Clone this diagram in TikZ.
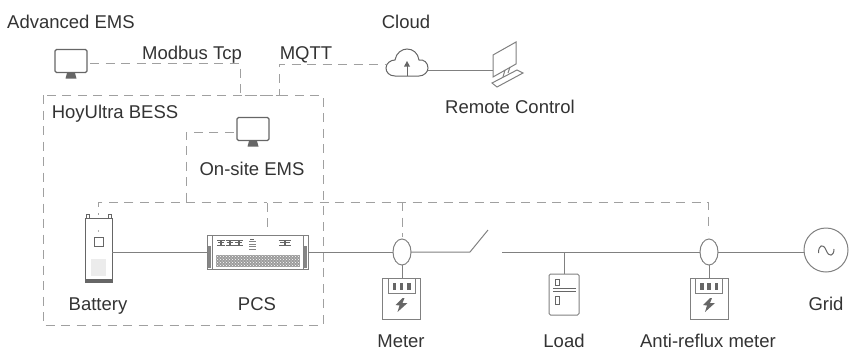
\documentclass[tikz,border=0pt]{standalone}
\usepackage{fontspec}
\setmainfont{Liberation Sans}
\usetikzlibrary{shapes.geometric,patterns}
\definecolor{wirecol}{HTML}{808080}
\definecolor{dashcol}{HTML}{A0A0A0}
\definecolor{iconcol}{HTML}{666666}
\definecolor{textcol}{HTML}{333333}
\tikzset{
  wire/.style={draw=wirecol,line width=1pt},
  bus/.style={draw=dashcol,line width=1pt,dash pattern=on 9pt off 6.5pt},
  iconbox/.style={draw=iconcol,line width=1pt,inner sep=0pt,outer sep=0pt},
  label/.style={text=textcol,font=\fontsize{18.5}{22}\selectfont,inner sep=0pt,anchor=base},
  monitor/.pic={
    \draw[iconcol,line width=1.2pt,rounded corners=1.5pt] (-16,-12) rectangle (16,11);
    \fill[iconcol] (-4,11.5) -- (4,11.5) -- (5.5,17) -- (-5.5,17) -- cycle;
  },
  meter/.pic={
    \draw[wirecol,line width=1pt] (-13.5,0) rectangle (13.5,15);
    \foreach \i in {-7,0,7.5} \fill[iconcol] (\i-1.7,5) rectangle (\i+1.7,12);
    \fill[iconcol] (1,20) -- (-6,27) -- (-2,27.5) -- (-4,34) -- (6,25) -- (1,25) -- (3,20) -- cycle;
  },
}
\begin{document}
\begin{tikzpicture}[x=1pt,y=-1pt]
  \useasboundingbox (0,0) rectangle (849,357);

  % labels
  \begin{scope}[every node/.style={label}]
    \node (advlabel)   at (71,28)   {Advanced EMS};
    \node (modbus)     at (192,59)  {Modbus Tcp};
    \node (mqtt)       at (306,59)  {MQTT};
    \node (cloudlabel) at (406,28)  {Cloud};
    \node (remote)     at (510,113) {Remote Control};
    \node (hoyultra)   at (115,118) {HoyUltra BESS};
    \node (onsite)     at (252,175) {On-site EMS};
    \node (batlabel)   at (98,310)  {Battery};
    \node (pcslabel)   at (257,310) {PCS};
    \node (mtrlabel)   at (401,347) {Meter};
    \node (loadlabel)  at (564,347) {Load};
    \node (antilabel)  at (708,347) {Anti-reflux meter};
    \node (gridlabel)  at (826,310) {Grid};
  \end{scope}

  % equipment
  \node[iconbox,minimum width=27pt,minimum height=64pt] (battery) at (98.5,250) {};
  \node[iconbox,draw=wirecol,minimum width=101pt,minimum height=34pt] (pcs) at (257.5,252) {};
  \node[iconbox,draw=wirecol,minimum width=38pt,minimum height=41pt] (meterbox) at (401.5,298.5) {};
  \node[iconbox,draw=wirecol,minimum width=38pt,minimum height=41pt] (antibox) at (709,298.5) {};
  \node[iconbox,draw=wirecol,rounded corners=1.5pt,minimum width=30pt,minimum height=41pt] (load) at (564,294.5) {};
  \node[ellipse,iconbox,draw=wirecol,minimum width=18pt,minimum height=26pt] (ct1) at (402,252) {};
  \node[ellipse,iconbox,draw=wirecol,minimum width=18pt,minimum height=26pt] (ct2) at (709,252) {};
  \node[circle,iconbox,draw=wirecol,minimum size=44pt] (grid) at (826,250) {};
  \node[inner sep=0pt,minimum width=32pt,minimum height=23pt] (advems) at (71,61.5) {};
  \node[inner sep=0pt,minimum width=32pt,minimum height=23pt] (siteems) at (253,129.5) {};
  \node[inner sep=0pt,minimum width=42pt,minimum height=27pt] (cloud) at (407,63) {};
  \node[inner sep=0pt,minimum width=30pt,minimum height=50pt] (pc) at (508,65) {};

  \pic at (71,61.5) {monitor};
  \pic at (253,129.5) {monitor};
  \pic at (401.5,278) {meter};
  \pic at (709,278) {meter};

  % battery details
  \fill[iconcol] (85,278.5) rectangle (112,282);
  \fill[gray!15] (90.5,259) rectangle (106,275.5);
  \draw[iconcol] (94,237) rectangle (103,246);
  \fill[iconcol] (98.5,231) circle (0.7);
  \draw[iconcol] (86,218) -- (86,214.5) -- (89,214.5) -- (89,218);
  \draw[iconcol] (108,218) -- (108,214.5) -- (111,214.5) -- (111,218);

  % pcs details
  \fill[iconcol!80] (208,246) rectangle (211,268);
  \fill[iconcol!80] (304,246) rectangle (307,268);
  \draw[wirecol] (212,235) -- (212,269) (303.5,235) -- (303.5,269);
  \fill[iconcol!65] (216,255) rectangle (300,267);
  \fill[pattern=crosshatch dots,pattern color=white] (216,255) rectangle (300,267);
  \foreach \x/\w in {217/3.6,225.7/3.6,234.4/3.6,278.5/5.5}
    \draw[iconcol,line width=1pt] (\x,240) -- (\x+\w,240) -- (\x+\w,245.5) -- (\x,245.5) (\x+1,242.7) -- (\x+\w,242.7)
      (\x+2*\w+1,240) -- (\x+\w+1,240) -- (\x+\w+1,245.5) -- (\x+2*\w+1,245.5) (\x+2*\w,242.7) -- (\x+\w+1,242.7);
  \foreach \y in {241.5,244,246.5,249}
    \draw[iconcol!80,line width=1pt] (249,\y) -- (256,\y);
  \fill[iconcol] (250,239) rectangle (254,240);

  % load details
  \draw[iconcol] (555,279) rectangle (559,285);
  \draw[iconcol] (555,296) rectangle (559,304);
  \draw[iconcol] (553,288.5) -- (576,288.5) (553,291.5) -- (576,291.5);

  % cloud
  \draw[iconcol,line width=1pt] (395,76)
    .. controls (389,76) and (386,72) .. (386,68)
    .. controls (386,63) and (391,60) .. (395,60)
    .. controls (396,53) and (402,49) .. (407,49)
    .. controls (413,49) and (418,53) .. (419,60)
    .. controls (424,59) and (428,63) .. (428,68)
    .. controls (428,72) and (424,76) .. (419,76) -- cycle;
  \draw[iconcol,line width=1pt] (407,76) -- (407,65);
  \fill[iconcol] (407,61) -- (410,66.5) -- (404,66.5) -- cycle;

  % remote pc
  \draw[wirecol,line width=1pt] (493,55) -- (516,42) -- (516,64) -- (493,77) -- cycle;
  \draw[wirecol,line width=1pt] (505,70) -- (503,77) (510,67) -- (508,73);
  \draw[wirecol,line width=1pt] (492,83) -- (517,70) -- (523,73) -- (497,87) -- cycle;

  % grid symbol
  \draw[iconcol,line width=1pt] (818.5,253) .. controls (818.5,245) and (823,243) .. (826,250)
    .. controls (829,258) and (834,256) .. (834,249);

  % power lines
  \coordinate (swleft)  at (470,252);
  \coordinate (swtip)   at (488,230);
  \coordinate (swright) at (502,252);
  \coordinate (loadtap) at (564,252);
  \path[wire] (battery.east |- pcs.west) -- (pcs.west);
  \path[wire] (pcs.east) -- (ct1.west);
  \path[wire] (ct1.east) -- (swleft) -- (swtip);
  \path[wire] (swright) -- (ct2.west);
  \path[wire] (ct2.east) -- (ct2.east -| grid.west);
  \path[wire] (loadtap) -- (load.north);
  \path[wire] (ct1.south) -- (ct1.south |- meterbox.north);
  \path[wire] (ct2.south) -- (antibox.north);
  \path[wire] (cloud.east |- 0,70) -- (pc.west |- 0,70);

  % comm lines
  \coordinate (advbend)  at (240,63.5);
  \coordinate (boxa)     at (240,95);
  \coordinate (boxb)     at (279,95);
  \coordinate (mqttbend) at (279,64.5);
  \coordinate (sitebend) at (186,132);
  \coordinate (sitedown) at (186,202);
  \coordinate (batbend)  at (98,202);
  \coordinate (battop)   at (98,215);
  \coordinate (pcsbend)  at (267,202);
  \coordinate (mtrbend)  at (402,202);
  \coordinate (antibend) at (708,202);
  \coordinate (pcstop)   at (267,227);

  \path[bus] (advems.east) ++(3,2) -- (advbend) -- (boxa) -- (boxb) -- (mqttbend) -- (cloud.west |- 0,64.5);
  \path[bus] (43,95) rectangle (323,325);
  \path[bus] (siteems.west) ++(-3,2.5) -- (sitebend) -- (sitedown) -- (batbend) -- (battop);
  \path[bus] (pcstop) -- (pcsbend) -- (antibend) -- (708,232);
  \path[bus] (sitedown) -- (pcsbend);
  \path[bus] (mtrbend) -- (402,237);
\end{tikzpicture}
\end{document}
